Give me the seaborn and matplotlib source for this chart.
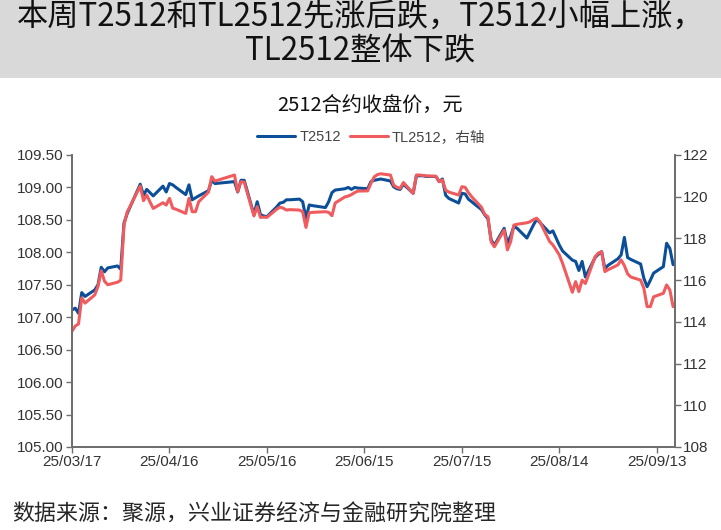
import numpy as np
import pandas as pd
import matplotlib
matplotlib.use("Agg")
import matplotlib.pyplot as plt
import matplotlib.dates as mdates
import seaborn as sns

# 交易日（2025年）
dias = ["03-17", "03-18", "03-19", "03-20", "03-21", "03-24", "03-25", "03-26", "03-27", "03-28", "03-31",
        "04-01", "04-02", "04-03", "04-07", "04-08", "04-09", "04-10", "04-11", "04-14", "04-15", "04-16",
        "04-17", "04-18", "04-21", "04-22", "04-23", "04-24", "04-25", "04-28", "04-29", "04-30",
        "05-06", "05-07", "05-08", "05-09", "05-12", "05-13", "05-14", "05-15", "05-16", "05-19", "05-20",
        "05-21", "05-22", "05-23", "05-26", "05-27", "05-28", "05-29", "05-30",
        "06-03", "06-04", "06-05", "06-06", "06-09", "06-10", "06-11", "06-12", "06-13", "06-16", "06-17",
        "06-18", "06-19", "06-20", "06-23", "06-24", "06-25", "06-26", "06-27", "06-30",
        "07-01", "07-02", "07-03", "07-04", "07-07", "07-08", "07-09", "07-10", "07-11", "07-14", "07-15",
        "07-16", "07-17", "07-18", "07-21", "07-22", "07-23", "07-24", "07-25", "07-28", "07-29", "07-30", "07-31",
        "08-01", "08-04", "08-05", "08-06", "08-07", "08-08", "08-11", "08-12", "08-13", "08-14", "08-15",
        "08-18", "08-19", "08-20", "08-21", "08-22", "08-25", "08-26", "08-27", "08-28", "08-29",
        "09-01", "09-02", "09-03", "09-04", "09-05", "09-08", "09-09", "09-10", "09-11", "09-12",
        "09-15", "09-16", "09-17", "09-18"]

# T2512 收盘价（左轴）
t2512 = [107.11, 107.14, 107.06, 107.38, 107.32, 107.42, 107.50, 107.77, 107.70, 107.76, 107.79,
         107.74, 108.45, 108.60, 109.05, 108.88, 108.97, 108.92, 108.87, 109.02, 108.93, 109.06,
         109.04, 109.00, 108.89, 109.04, 108.81, 108.84, 108.87, 108.95, 109.11, 109.06,
         109.09, 108.93, 109.11, 109.11, 108.58, 108.78, 108.58, 108.56, 108.55, 108.70, 108.76,
         108.77, 108.81, 108.81, 108.82, 108.78, 108.52, 108.73, 108.72,
         108.69, 108.78, 108.92, 108.96, 108.98, 109.00, 108.97, 109.00, 108.99, 108.98, 109.09,
         109.11, 109.12, 109.13, 109.10, 109.01, 108.98, 108.97, 109.05, 108.91,
         109.18, 109.18, 109.18, 109.17, 109.17, 109.09, 109.13, 108.88, 108.83, 108.76, 108.91,
         108.90, 108.82, 108.78, 108.66, 108.58, 108.52, 108.19, 108.11, 108.37, 108.14, 108.25, 108.40,
         108.37, 108.22, 108.32, 108.42, 108.51, 108.46, 108.30, 108.33, 108.22, 108.11, 108.02,
         107.88, 107.86, 107.72, 107.86, 107.62, 107.92, 107.97, 108.01, 107.75, 107.80,
         107.90, 107.96, 108.23, 107.92, 107.89, 107.82, 107.60, 107.47, 107.57, 107.68,
         107.78, 108.14, 108.06, 107.81]

# TL2512 收盘价（右轴）
tl2512 = [113.55, 113.80, 113.90, 115.15, 114.90, 115.29, 115.70, 116.45, 115.95, 115.78, 115.90,
          116.00, 118.64, 119.27, 120.51, 119.81, 120.08, 119.75, 119.44, 119.71, 119.60, 119.92,
          119.45, 119.40, 119.20, 119.92, 119.28, 119.28, 119.76, 120.22, 120.96, 120.75,
          121.04, 120.24, 120.72, 120.70, 119.08, 119.52, 119.01, 119.02, 119.01, 119.40, 119.50,
          119.45, 119.36, 119.38, 119.36, 119.28, 118.53, 119.23, 119.25,
          119.28, 119.25, 119.09, 119.70, 119.99, 120.03, 120.10, 120.20, 120.27, 120.28, 120.64,
          120.95, 121.06, 121.10, 121.04, 120.56, 120.45, 120.40, 120.68, 120.16,
          121.04, 121.04, 121.02, 121.00, 120.98, 120.72, 120.80, 120.32, 120.22, 120.08, 120.48,
          120.45, 120.20, 120.00, 119.50, 119.16, 119.04, 117.84, 117.60, 118.40, 117.45, 117.84, 118.64,
          118.68, 118.75, 118.80, 118.90, 118.97, 118.80, 117.85, 117.69, 117.45, 117.20, 116.80,
          115.42, 115.93, 115.45, 116.00, 115.84, 117.12, 117.30, 117.36, 116.41, 116.50,
          116.73, 116.97, 116.70, 116.30, 116.15, 116.00, 115.61, 114.73, 114.73, 115.20,
          115.37, 115.77, 115.53, 114.73]

df = pd.DataFrame({"data": pd.to_datetime(["2025-" + d for d in dias]),
                   "T2512": t2512, "TL2512": tl2512})

azul = "#0c4f98"
vermelho = "#f05b5e"
cinza = "#6e6e6e"
fonte_num = ["Liberation Sans", "DejaVu Sans"]

sns.set_style("ticks")
plt.rcParams["font.family"] = ["Noto Sans CJK SC", "DejaVu Sans"]

fig = plt.figure(figsize=(7.21, 5.30), dpi=100)
fig.add_artist(plt.Rectangle((0, 1 - 78 / 530), 1, 78 / 530, transform=fig.transFigure,
                             facecolor="#d9d9d9", edgecolor="none", zorder=0))

fig.text(0.5, 1 - 35 / 530, "本周T2512和TL2512先涨后跌，T2512小幅上涨，\nTL2512整体下跌",
         ha="center", va="center", fontsize=22.5, fontweight="medium", linespacing=1.07,
         color="#111111")
fig.text(0.513, 1 - 106 / 530, "2512合约收盘价，元", ha="center", va="center", fontsize=14.5, color="#111111")
fig.text(12 / 721, 1 - 515 / 530, "数据来源：聚源，兴业证券经济与金融研究院整理",
         ha="left", va="center", fontsize=15.8, color="#262626")

ax = fig.add_axes([72 / 721, 1 - 447 / 530, (675 - 72) / 721, (447 - 155) / 530])
sns.lineplot(data=df, x="data", y="T2512", ax=ax, color=azul, lw=2.2)
ax2 = ax.twinx()
sns.lineplot(data=df, x="data", y="TL2512", ax=ax2, color=vermelho, lw=2.2)

ax.set_xlim(pd.Timestamp("2025-03-17"), pd.Timestamp("2025-09-18 14:00"))
ax.set_ylim(105, 109.5)
ax2.set_ylim(108, 122)
ax.set_yticks(np.arange(105, 109.51, 0.5))
ax2.set_yticks(np.arange(108, 122.1, 2))
ax.set_xticks(pd.date_range("2025-03-17", periods=7, freq="30D"))
ax.xaxis.set_major_formatter(mdates.DateFormatter("%y/%m/%d"))
ax.yaxis.set_major_formatter(plt.FormatStrFormatter("%.2f"))
ax2.yaxis.set_major_formatter(plt.FormatStrFormatter("%d"))

for a in (ax, ax2):
    a.set_xlabel("")
    a.set_ylabel("")
    a.spines["top"].set_visible(False)
    for s in ("left", "right", "bottom"):
        a.spines[s].set_color(cinza)
        a.spines[s].set_linewidth(1.3)
    a.tick_params(direction="out", length=4, width=1, color=cinza, labelsize=11,
                  labelcolor="#333333", pad=2)
    for lbl in a.get_xticklabels() + a.get_yticklabels():
        lbl.set_fontfamily(fonte_num)

linhas = [ax.get_lines()[0], ax2.get_lines()[0]]
leg = fig.legend(linhas, ["T2512", "TL2512，右轴"], loc="center", bbox_to_anchor=(0.515, 1 - 137 / 530),
                 ncol=2, frameon=False, handlelength=2.6, handletextpad=0.3, columnspacing=0.6,
                 fontsize=10.5)
for t in leg.get_texts():
    t.set_color("#444444")
    t.set_fontfamily(["Liberation Sans", "Noto Sans CJK SC"])

fig.savefig("out.png", dpi=100)
